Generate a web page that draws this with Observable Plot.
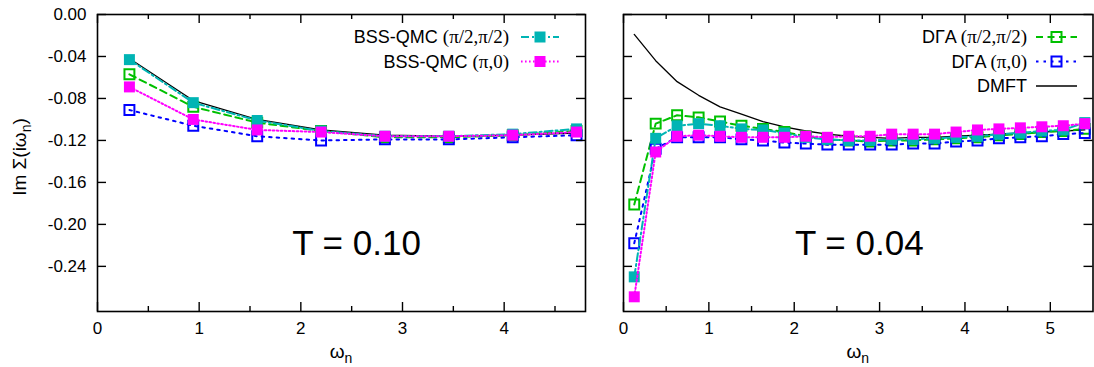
<!DOCTYPE html>
<html><head><meta charset="utf-8">
<script src="https://cdn.jsdelivr.net/npm/d3@7"></script>
<script src="https://cdn.jsdelivr.net/npm/@observablehq/plot@0.6"></script>
<style>
body{margin:0;background:#fff;}
#wrap{position:relative;width:1094px;height:367px;overflow:hidden;}
#wrap > svg{position:absolute;top:0;}
</style></head><body><div id="wrap"></div>
<script>
// ---------- data: T = 0.10 ----------
const omegaT010 = [0.314, 0.942, 1.571, 2.199, 2.827, 3.456, 4.084, 4.712];
const dmftT010  = [-0.042, -0.082, -0.100, -0.110, -0.115, -0.116, -0.115, -0.113];
const qmcDiagT010 = [-0.043, -0.084, -0.101, -0.111, -0.116, -0.116, -0.114, -0.109]; // BSS-QMC (pi/2,pi/2)
const qmcAntiT010 = [-0.069, -0.100, -0.110, -0.112, -0.116, -0.116, -0.115, -0.112]; // BSS-QMC (pi,0)
const dgaDiagT010 = [-0.057, -0.088, -0.103, -0.111, -0.117, -0.117, -0.115, -0.111]; // DGA (pi/2,pi/2)
const dgaAntiT010 = [-0.091, -0.106, -0.116, -0.120, -0.119, -0.119, -0.117, -0.115]; // DGA (pi,0)

// ---------- data: T = 0.04 ----------
const omegaT004 = [0.126, 0.377, 0.628, 0.880, 1.131, 1.382, 1.634, 1.885, 2.136, 2.388, 2.639,
                   2.890, 3.142, 3.393, 3.644, 3.896, 4.147, 4.398, 4.649, 4.901, 5.152, 5.404];
const dmftT004 = [-0.019, -0.044, -0.064, -0.077, -0.088, -0.095, -0.102, -0.107, -0.111, -0.114, -0.116,
                  -0.117, -0.118, -0.117, -0.117, -0.116, -0.115, -0.114, -0.113, -0.112, -0.111, -0.110];
const dgaDiagT004 = [-0.181, -0.104, -0.096, -0.098, -0.102, -0.106, -0.109, -0.112, -0.116, -0.119, -0.120,
                     -0.121, -0.120, -0.120, -0.119, -0.118, -0.117, -0.115, -0.114, -0.112, -0.111, -0.109];
const dgaAntiT004 = [-0.218, -0.128, -0.117, -0.117, -0.117, -0.119, -0.120, -0.122, -0.123, -0.124, -0.124,
                     -0.124, -0.124, -0.123, -0.123, -0.121, -0.120, -0.118, -0.117, -0.116, -0.114, -0.113];
const qmcDiagT004 = [-0.250, -0.118, -0.106, -0.104, -0.106, -0.109, -0.110, -0.113, -0.117, -0.119, -0.120,
                     -0.120, -0.119, -0.119, -0.118, -0.117, -0.116, -0.114, -0.113, -0.111, -0.110, -0.103];
const qmcAntiT004 = [-0.269, -0.131, -0.116, -0.115, -0.116, -0.117, -0.117, -0.117, -0.116, -0.117, -0.116,
                     -0.116, -0.114, -0.114, -0.114, -0.112, -0.110, -0.109, -0.108, -0.107, -0.106, -0.104];

// ---------- ticks / labels ----------
const xTicksLeft = [0, 1, 2, 3, 4];
const xMinorLeft = [0.5, 1.5, 2.5, 3.5, 4.5];
const xTicksRight = [0, 1, 2, 3, 4, 5];
const xMinorRight = [0.5, 1.5, 2.5, 3.5, 4.5];
const yTicks = [0, -0.04, -0.08, -0.12, -0.16, -0.20, -0.24];
const tempLabels = ["T = 0.10", "T = 0.04"];
const legendLeft = [
  {key: "qmcDiag", name: "BSS-QMC ", k: "(π/2,π/2)"},
  {key: "qmcAnti", name: "BSS-QMC ", k: "(π,0)"}
];
const legendRight = [
  {key: "dgaDiag", name: "DΓA ", k: "(π/2,π/2)"},
  {key: "dgaAnti", name: "DΓA ", k: "(π,0)"},
  {key: "dmft", name: "DMFT", k: ""}
];

// ---------- styles ----------
const styles = {
  dgaDiag: {color: "#00c000", dash: "7,4.5", open: true},
  dgaAnti: {color: "#0000ff", dash: "2.5,5", open: true},
  qmcDiag: {color: "#00b4b4", dash: "8,3,2,3", open: false},
  qmcAnti: {color: "#ff00ff", dash: "1.6,2.4", open: false},
  dmft: {color: "#000000", dash: null, open: null}
};
const SANS = "'Liberation Sans', Arial, Helvetica, sans-serif";
const SERIF = "'Liberation Serif', 'Times New Roman', serif";
const H = 367, MT = 14, MB = 56, INNER_H = H - MT - MB;

const rows = (om, vals) => om.map((w, i) => ({w, v: vals[i]}));

function panel(o) {
  const innerW = o.width - o.marginLeft - o.marginRight;
  const marks = [];
  marks.push(Plot.line(rows(o.omega, o.dmft), {x: "w", y: "v", stroke: "black", strokeWidth: 1.3}));
  for (const s of o.series) {
    const st = styles[s.key];
    const d = rows(o.omega, s.values);
    marks.push(Plot.line(d, {x: "w", y: "v", stroke: st.color, strokeWidth: 2, strokeDasharray: st.dash}));
    if (st.open) {
      marks.push(Plot.dot(d, {x: "w", y: "v", symbol: "square", r: 5.6, fill: "none", stroke: st.color, strokeWidth: 2}));
    } else {
      marks.push(Plot.dot(d, {x: "w", y: "v", symbol: "square", r: 6.2, fill: st.color, stroke: "none"}));
    }
  }
  const tk = {stroke: "black", strokeWidth: 1.4};
  marks.push(
    Plot.tickX(o.xTicks, {x: d => d, ...tk, insetTop: INNER_H - 9}),
    Plot.tickX(o.xTicks, {x: d => d, ...tk, insetBottom: INNER_H - 9}),
    Plot.tickX(o.xMinor, {x: d => d, ...tk, insetTop: INNER_H - 5}),
    Plot.tickX(o.xMinor, {x: d => d, ...tk, insetBottom: INNER_H - 5}),
    Plot.tickY(yTicks, {y: d => d, ...tk, insetRight: innerW - 9}),
    Plot.tickY(yTicks, {y: d => d, ...tk, insetLeft: innerW - 9}),
    Plot.frame({stroke: "black", strokeWidth: 1.6}),
    Plot.axisX(o.xTicks, {tickSize: 0, tickPadding: 10, tickFormat: d => String(d), label: null, fill: "black"}),
    Plot.text([o.temp], {text: d => d, frameAnchor: "middle", dx: o.tempDx, dy: 81, fontSize: 35, fill: "black"})
  );
  if (o.showY) {
    marks.push(Plot.axisY(yTicks, {tickSize: 0, tickPadding: 11, tickFormat: d => d.toFixed(2), label: null, fill: "black"}));
  }
  const svg = Plot.plot({
    width: o.width, height: H,
    marginLeft: o.marginLeft, marginRight: o.marginRight, marginTop: MT, marginBottom: MB,
    x: {domain: o.xDomain, axis: null},
    y: {domain: [-0.283, 0], axis: null},
    style: {fontSize: "17px", fontFamily: SANS, color: "black", background: "white", overflow: "visible"},
    marks
  });
  svg.style.left = o.left + "px";
  // x-axis title with subscript
  const cx = o.marginLeft + innerW / 2;
  const t = d3.select(svg).append("text").attr("x", cx).attr("y", 358)
    .attr("text-anchor", "middle").attr("font-size", 19).attr("font-family", SANS).attr("fill", "black");
  t.append("tspan").text("ω");
  t.append("tspan").attr("font-size", 14).attr("dy", 5).text("n");
  if (o.showY) {
    const y = d3.select(svg).append("text").attr("transform", "translate(26,157) rotate(-90)")
      .attr("text-anchor", "middle").attr("font-size", 19).attr("font-family", SANS).attr("fill", "black");
    y.append("tspan").text("Im Σ(iω");
    y.append("tspan").attr("font-size", 14).attr("dy", 5).text("n");
    y.append("tspan").attr("dy", -5).text(")");
  }
  return svg;
}

const wrap = document.getElementById("wrap");
wrap.appendChild(panel({
  omega: omegaT010, dmft: dmftT010,
  series: [{key: "dgaDiag", values: dgaDiagT010}, {key: "dgaAnti", values: dgaAntiT010},
           {key: "qmcDiag", values: qmcDiagT010}, {key: "qmcAnti", values: qmcAntiT010}],
  xDomain: [0, 4.8], xTicks: xTicksLeft, xMinor: xMinorLeft,
  width: 600, left: 0, marginLeft: 97, marginRight: 15, showY: true,
  temp: tempLabels[0], tempDx: 15
}));
wrap.appendChild(panel({
  omega: omegaT004, dmft: dmftT004,
  series: [{key: "dgaDiag", values: dgaDiagT004}, {key: "dgaAnti", values: dgaAntiT004},
           {key: "qmcDiag", values: qmcDiagT004}, {key: "qmcAnti", values: qmcAntiT004}],
  xDomain: [0, 5.5], xTicks: xTicksRight, xMinor: xMinorRight,
  width: 494, left: 600, marginLeft: 23, marginRight: 1.5, showY: false,
  temp: tempLabels[1], tempDx: 1
}));

// ---------- legends (overlay) ----------
const leg = d3.select(wrap).append("svg").attr("width", 1094).attr("height", 367)
  .style("left", "0px").style("pointer-events", "none");
function drawLegend(entries, textRight, x1, x2, y0, dyRow) {
  entries.forEach((e, i) => {
    const y = y0 + i * dyRow;
    const st = styles[e.key];
    const t = leg.append("text").attr("x", textRight).attr("y", y).attr("dy", "0.36em")
      .attr("text-anchor", "end").attr("font-size", 18).attr("font-family", SANS).attr("fill", "black");
    t.append("tspan").text(e.name);
    if (e.k) t.append("tspan").attr("font-family", SERIF).attr("font-size", 19).text(e.k);
    leg.append("line").attr("x1", x1).attr("x2", x2).attr("y1", y).attr("y2", y)
      .attr("stroke", st.color).attr("stroke-width", e.key === "dmft" ? 1.3 : 2)
      .attr("stroke-dasharray", st.dash);
    const mx = (x1 + x2) / 2;
    if (st.open === true) {
      leg.append("rect").attr("x", mx - 5).attr("y", y - 5).attr("width", 10).attr("height", 10)
        .attr("fill", "none").attr("stroke", st.color).attr("stroke-width", 2);
    } else if (st.open === false) {
      leg.append("rect").attr("x", mx - 5.5).attr("y", y - 5.5).attr("width", 11).attr("height", 11)
        .attr("fill", st.color);
    }
  });
}
drawLegend(legendLeft, 509, 521, 559, 37, 24.5);
drawLegend(legendRight, 1027, 1036, 1077, 37, 24.5);
</script></body></html>
